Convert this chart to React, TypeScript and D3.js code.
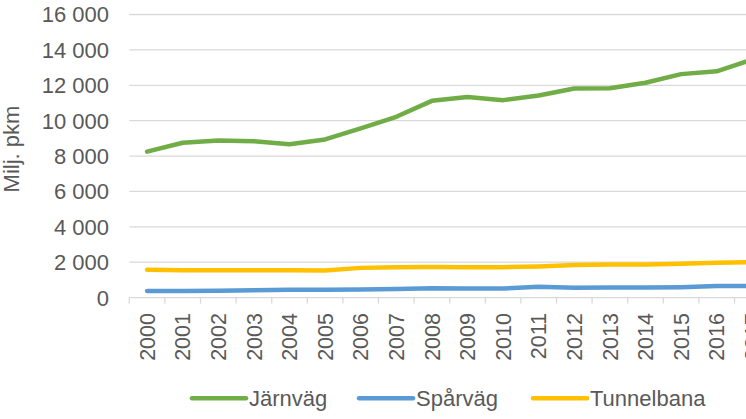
import React from 'react';
import * as d3 from 'd3';

const years = ['2000', '2001', '2002', '2003', '2004', '2005', '2006', '2007', '2008', '2009',
  '2010', '2011', '2012', '2013', '2014', '2015', '2016', '2017'];
const jarnvag = [8250, 8750, 8880, 8840, 8670, 8940, 9560, 10220, 11120, 11340,
  11160, 11420, 11820, 11830, 12140, 12630, 12790, 13450];
const sparvag = [380, 380, 390, 420, 450, 450, 460, 480, 530, 510,
  510, 620, 550, 570, 570, 590, 650, 660];
const tunnelbana = [1580, 1550, 1550, 1550, 1550, 1525, 1680, 1720, 1730, 1720,
  1720, 1760, 1840, 1870, 1870, 1910, 1970, 2000];
const yTicks = [0, 2000, 4000, 6000, 8000, 10000, 12000, 14000, 16000];

const series = [
  { name: 'Järnväg', values: jarnvag, color: '#70AD47', lx: 192 },
  { name: 'Spårväg', values: sparvag, color: '#5B9BD5', lx: 359 },
  { name: 'Tunnelbana', values: tunnelbana, color: '#FFC000', lx: 533 },
];

const W = 746;
const H = 419;
const left = 129.3;
const step = 35.6;
const text = '#595959';
const font = '"Liberation Sans", Arial, sans-serif';

const fmt = (v: number) => d3.format(',')(v).replace(/,/g, ' ');

export default function App() {
  const x = d3.scaleBand().domain(years).range([left, left + step * years.length]);
  const y = d3.scaleLinear().domain([0, 16000]).range([297.6, 14.5]);
  const line = d3.line<number>()
    .x((_, i) => x(years[i])! + x.bandwidth() / 2)
    .y(d => y(d));

  return (
    <svg width={W} height={H} style={{ position: 'absolute', left: 0, top: 0, background: '#fff' }}
      fontFamily={font}>
      {yTicks.map(t => (
        <g key={t}>
          <line x1={left} x2={W + 40} y1={y(t)} y2={y(t)} stroke="#D9D9D9" strokeWidth={1.3} />
          <text x={109} y={y(t)} dy="0.36em" textAnchor="end" fontSize={22} fill={text}>{fmt(t)}</text>
        </g>
      ))}
      {years.concat(['']).map((yr, i) => (
        <line key={'t' + i} x1={left + i * step} x2={left + i * step} y1={y(0)} y2={y(0) + 6}
          stroke="#D9D9D9" strokeWidth={1.3} />
      ))}
      {years.map(yr => {
        const cx = x(yr)! + x.bandwidth() / 2;
        return (
          <text key={yr} transform={`translate(${cx + 7.7},313) rotate(-90)`} textAnchor="end"
            fontSize={21.5} fill={text}>{yr}</text>
        );
      })}
      <text transform="translate(18.5,149) rotate(-90)" textAnchor="middle" fontSize={22} fill={text}>Milj. pkm</text>
      {series.map(s => (
        <path key={s.name} d={line(s.values)!} fill="none" stroke={s.color} strokeWidth={4.5}
          strokeLinecap="round" strokeLinejoin="round" />
      ))}
      {series.map(s => (
        <g key={'l' + s.name}>
          <line x1={s.lx} x2={s.lx + 54} y1={398.3} y2={398.3} stroke={s.color} strokeWidth={4.5}
            strokeLinecap="round" />
          <text x={s.lx + 57} y={405.7} fontSize={22} fill={text}>{s.name}</text>
        </g>
      ))}
    </svg>
  );
}
